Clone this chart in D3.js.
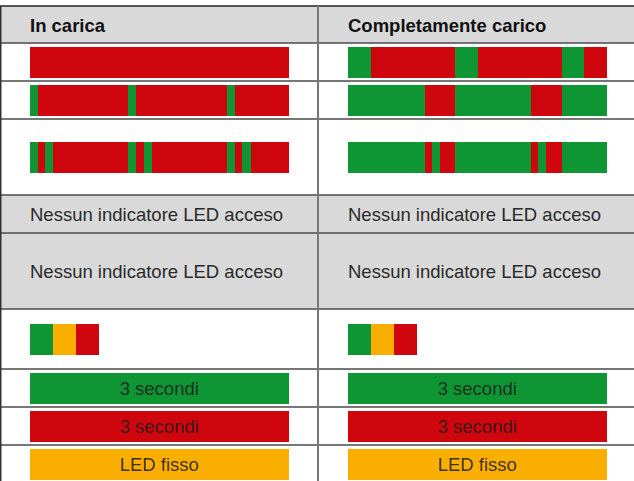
<!DOCTYPE html>
<html>
<head>
<meta charset="utf-8">
<script src="https://cdn.jsdelivr.net/npm/d3@7"></script>
<style>
  body { margin: 0; background: #fff; }
  svg { display: block; font-family: "Liberation Sans", Arial, sans-serif; }
</style>
</head>
<body>
<div id="chart"></div>
<script>
// column headers
let columns = ["In carica", "Completamente carico"];

// LED patterns, segments in % of bar length: [colour, from, to]
let chargingBars = [
    [["r", 0, 100]],
    [["g", 0, 3.1], ["r", 3.1, 38], ["g", 38, 41.1], ["r", 41.1, 76.2], ["g", 76.2, 79.3], ["r", 79.3, 100]],
    [["g", 0, 3], ["r", 3, 5.8], ["g", 5.8, 8.9], ["r", 8.9, 38], ["g", 38, 41.1], ["r", 41.1, 44.2],
     ["g", 44.2, 47.3], ["r", 47.3, 76.2], ["g", 76.2, 79.3], ["r", 79.3, 82.2], ["g", 82.2, 85.3], ["r", 85.3, 100]]
];

let chargedBars = [
    [["g", 0, 9], ["r", 9, 41.4], ["g", 41.4, 50.4], ["r", 50.4, 82.6], ["g", 82.6, 91.4], ["r", 91.4, 100]],
    [["g", 0, 29.6], ["r", 29.6, 41.4], ["g", 41.4, 70.9], ["r", 70.9, 82.6], ["g", 82.6, 100]],
    [["g", 0, 29.6], ["r", 29.6, 32.4], ["g", 32.4, 35.4], ["r", 35.4, 41.4], ["g", 41.4, 70.9],
     ["r", 70.9, 73.6], ["g", 73.6, 76.7], ["r", 76.7, 82.6], ["g", 82.6, 100]]
];

let noLedText = ["Nessun indicatore LED acceso", "Nessun indicatore LED acceso"];

let startupBar = [["g", 0, 8.9], ["o", 8.9, 17.8], ["r", 17.8, 26.7]];

let labelledBars = [
    ["g", "3 secondi"],
    ["r", "3 secondi"],
    ["o", "LED fisso"]
];

let colors = { g: "#0e9634", r: "#d0060e", o: "#f9ae00" };

// layout
let W = 634, H = 481;
let rowY = [6, 43, 81, 119, 195, 233, 309, 369, 407, 445, 483];
let rowKind = ["head", "bar", "bar", "bar", "text", "text", "start", "label", "label", "label"];
let colX = [0, 318];
let barH = 31;

let svg = d3.select("#chart").append("svg")
    .attr("width", W)
    .attr("height", H);

let xScales = colX.map(function(c) {
    return d3.scaleLinear().domain([0, 100]).range([c + 30, c + 288.5]);
});

// grey rows
svg.selectAll(".greyRow")
    .data(rowKind.map(function(k, i) { return { k: k, i: i }; }).filter(function(d) { return d.k == "head" || d.k == "text"; }))
    .enter().append("rect")
    .attr("x", 0)
    .attr("y", function(d) { return rowY[d.i]; })
    .attr("width", W)
    .attr("height", function(d) { return rowY[d.i + 1] - rowY[d.i]; })
    .style("fill", "#d9d9d9");

function drawSegments(g, segs, x, i) {
    var mid = (rowY[i] + rowY[i + 1]) / 2;
    g.selectAll(null)
        .data(segs)
        .enter().append("rect")
        .attr("x", function(d) { return x(d[1]); })
        .attr("y", mid - barH / 2)
        .attr("width", function(d) { return x(d[2]) - x(d[1]); })
        .attr("height", barH)
        .style("fill", function(d) { return colors[d[0]]; })
        .style("shape-rendering", "crispEdges");
}

let cells = svg.append("g");

columns.forEach(function(title, c) {
    var x = xScales[c];
    var bars = c == 0 ? chargingBars : chargedBars;

    cells.append("text")
        .attr("x", x(0))
        .attr("y", 31.5)
        .style("font-size", "18.5px")
        .style("font-weight", "bold")
        .style("fill", "#111")
        .text(title);

    bars.forEach(function(segs, k) {
        drawSegments(cells, segs, x, k + 1);
    });

    [4, 5].forEach(function(i) {
        cells.append("text")
            .attr("x", x(0))
            .attr("y", (rowY[i] + rowY[i + 1]) / 2 + 7)
            .style("font-size", "18.5px")
            .style("fill", "#2a2a2a")
            .text(noLedText[c]);
    });

    drawSegments(cells, startupBar, x, 6);

    labelledBars.forEach(function(d, k) {
        var i = k + 7;
        drawSegments(cells, [[d[0], 0, 100]], x, i);
        cells.append("text")
            .attr("x", x(50))
            .attr("y", (rowY[i] + rowY[i + 1]) / 2 + 7)
            .style("text-anchor", "middle")
            .style("font-size", "18.5px")
            .style("fill", "#1a1a1a")
            .style("fill-opacity", 0.85)
            .text(d[1]);
    });
});

// grid lines
svg.selectAll(".hline")
    .data(rowY.slice(0, -1))
    .enter().append("line")
    .attr("x1", 0).attr("x2", W)
    .attr("y1", function(d) { return d; })
    .attr("y2", function(d) { return d; })
    .style("stroke", function(d, i) { return i == 0 ? "#222" : "#4a4a4a"; })
    .style("stroke-width", 1.5);

svg.append("line")
    .attr("x1", 0.75).attr("x2", 0.75)
    .attr("y1", rowY[0]).attr("y2", H)
    .style("stroke", "#333")
    .style("stroke-width", 1.5);

svg.append("line")
    .attr("x1", colX[1]).attr("x2", colX[1])
    .attr("y1", rowY[0]).attr("y2", H)
    .style("stroke", "#777")
    .style("stroke-width", 2);
</script>
</body>
</html>
